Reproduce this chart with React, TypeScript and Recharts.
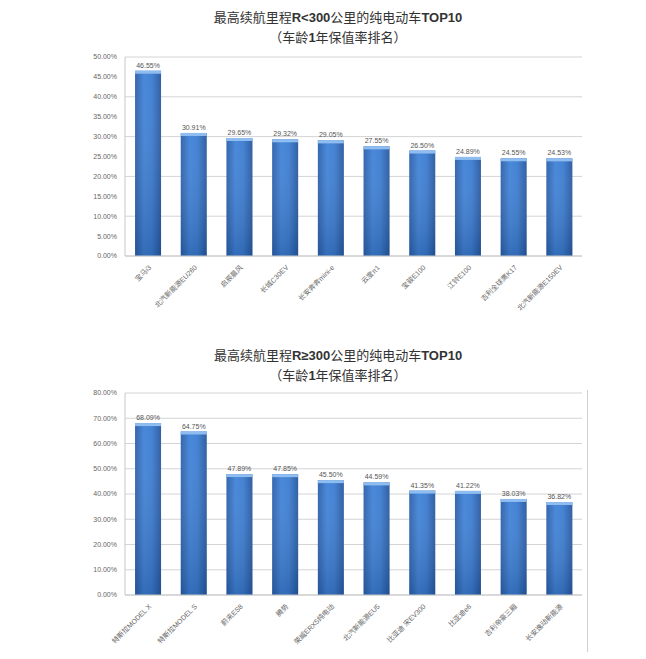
import { BarChart, Bar, XAxis, YAxis, CartesianGrid, LabelList } from "recharts";

const shortRangeCars = ["宝马i3", "北汽新能源EU260", "启辰晨风", "长城C30EV", "长安奔奔mini-e", "云度π1", "宝骏E100", "江铃E100", "吉利全球鹰K17", "北汽新能源E150EV"];
const shortRangeRates = [46.55, 30.91, 29.65, 29.32, 29.05, 27.55, 26.5, 24.89, 24.55, 24.53];
const shortRangeTicks = [0, 5, 10, 15, 20, 25, 30, 35, 40, 45, 50];

const longRangeCars = ["特斯拉MODEL X", "特斯拉MODEL S", "蔚来ES8", "腾势", "荣威ERX5纯电动", "北汽新能源EU5", "比亚迪 宋EV300", "比亚迪e6", "吉利帝豪三厢", "长安逸动新能源"];
const longRangeRates = [68.09, 64.75, 47.89, 47.85, 45.5, 44.59, 41.35, 41.22, 38.03, 36.82];
const longRangeTicks = [0, 10, 20, 30, 40, 50, 60, 70, 80];

const font = "'Liberation Sans', 'Noto Sans CJK SC', sans-serif";

const pct = (v: number) => `${Number(v).toFixed(2)}%`;

function CylinderBar(props: any) {
    const { x, y, width, height } = props;
    if (!height || height <= 0) return null;
    return (
        <g>
            <rect x={x} y={y} width={width} height={height} fill="url(#barGrad)" />
            <rect x={x} y={y} width={width} height={height} fill="url(#barShade)" />
            <rect x={x} y={y} width={width} height={3} fill="#8fbdf0" />
        </g>
    );
}

function SlantTick(props: any) {
    const { x, y, payload } = props;
    return (
        <g transform={`translate(${x + 4},${y + 4})`}>
            <text transform="rotate(-45)" textAnchor="end" fontSize={7} fill="#666" fontFamily={font}>
                {payload.value}
            </text>
        </g>
    );
}

function RankChart({ cars, rates, ticks, max, height }: { cars: string[]; rates: number[]; ticks: number[]; max: number; height: number }) {
    const data = cars.map((name, i) => ({ name, rate: rates[i] }));
    return (
        <BarChart width={646} height={height} data={data} margin={{ top: 57, right: 64, left: 0, bottom: 0 }} barCategoryGap="22%">
            <defs>
                <linearGradient id="barGrad" x1="0" y1="0" x2="1" y2="0">
                    <stop offset="0%" stopColor="#2a5ea8" />
                    <stop offset="35%" stopColor="#3f82d8" />
                    <stop offset="65%" stopColor="#3a7bd0" />
                    <stop offset="100%" stopColor="#25579e" />
                </linearGradient>
                <linearGradient id="barShade" x1="0" y1="0" x2="0" y2="1">
                    <stop offset="0%" stopColor="#ffffff" stopOpacity={0.05} />
                    <stop offset="100%" stopColor="#10305e" stopOpacity={0.25} />
                </linearGradient>
            </defs>
            <CartesianGrid vertical={false} stroke="#d4d4d4" />
            <XAxis dataKey="name" interval={0} height={64} tick={<SlantTick />} tickLine={false} axisLine={{ stroke: "#c8c8c8" }} />
            <YAxis
                width={125}
                domain={[0, max]}
                ticks={ticks}
                tickFormatter={pct}
                tick={{ fontSize: 7, fill: "#666", fontFamily: font }}
                tickLine={false}
                axisLine={{ stroke: "#c8c8c8" }}
            />
            <Bar dataKey="rate" shape={<CylinderBar />} isAnimationActive={false}>
                <LabelList dataKey="rate" position="top" formatter={pct} fontSize={7} fill="#555" fontFamily={font} offset={3} />
            </Bar>
        </BarChart>
    );
}

function Title({ top, sign }: { top: number; sign: string }) {
    return (
        <div style={{ position: "absolute", top, left: 0, width: 676, textAlign: "center", fontFamily: font, color: "#333", fontSize: 13, lineHeight: "20px" }}>
            <div>
                最高续航里程<b>R{sign}300</b>公里的纯电动车<b>TOP10</b>
            </div>
            <div>（车龄<b>1</b>年保值率排名）</div>
        </div>
    );
}

export default function App() {
    return (
        <div style={{ position: "absolute", left: 0, top: 0, width: 646, height: 659, background: "#fff", overflow: "hidden" }}>
            <Title top={8} sign="<" />
            <div style={{ position: "absolute", top: 0, left: 0 }}>
                <RankChart cars={shortRangeCars} rates={shortRangeRates} ticks={shortRangeTicks} max={50} height={320} />
            </div>
            <Title top={346} sign="≥" />
            <div style={{ position: "absolute", top: 336, left: 0 }}>
                <RankChart cars={longRangeCars} rates={longRangeRates} ticks={longRangeTicks} max={80} height={323} />
            </div>
            <div style={{ position: "absolute", left: 587, top: 390, width: 1, height: 262, background: "#d0d0d0" }} />
        </div>
    );
}
